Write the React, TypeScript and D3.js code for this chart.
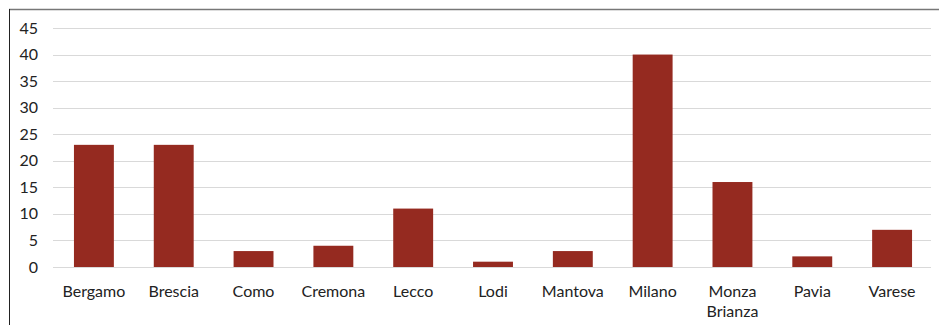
import { useEffect, useRef } from 'react';
import * as d3 from 'd3';

const provinces = ['Bergamo', 'Brescia', 'Como', 'Cremona', 'Lecco', 'Lodi', 'Mantova', 'Milano', 'Monza Brianza', 'Pavia', 'Varese'];
const counts = [23, 23, 3, 4, 11, 1, 3, 40, 16, 2, 7];
const yTicks = [0, 5, 10, 15, 20, 25, 30, 35, 40, 45];

export default function App() {
  const svgRef = useRef<SVGSVGElement>(null);

  useEffect(() => {
    if (!svgRef.current) return;
    const svg = d3.select(svgRef.current);
    svg.selectAll('*').remove();

    const width = 939;
    const height = 325;
    const margin = { top: 28, right: 7, bottom: 58, left: 54 };
    const font = 'Lato, "Open Sans", sans-serif';

    // frame
    svg.append('line')
      .attr('x1', 9).attr('x2', width).attr('y1', 9.5).attr('y2', 9.5)
      .attr('stroke', '#777').attr('stroke-width', 1.5);
    svg.append('line')
      .attr('x1', 9.5).attr('x2', 9.5).attr('y1', 9).attr('y2', height)
      .attr('stroke', '#222').attr('stroke-width', 1);

    const x = d3.scaleBand()
      .domain(provinces)
      .range([margin.left, width - margin.right])
      .paddingInner(0.5)
      .paddingOuter(0.25);

    const y = d3.scaleLinear()
      .domain([0, 45])
      .range([height - margin.bottom, margin.top]);

    // gridlines
    svg.append('g')
      .selectAll('line')
      .data(yTicks)
      .join('line')
      .attr('x1', margin.left - 1)
      .attr('x2', width - margin.right - 1)
      .attr('y1', d => Math.round(y(d)) + 0.5)
      .attr('y2', d => Math.round(y(d)) + 0.5)
      .attr('stroke', '#d9d9d9')
      .attr('stroke-width', 1.2);

    // y labels
    svg.append('g')
      .selectAll('text')
      .data(yTicks)
      .join('text')
      .attr('x', 38)
      .attr('y', d => y(d))
      .attr('dy', '0.35em')
      .attr('text-anchor', 'end')
      .attr('font-family', font)
      .attr('font-size', 16)
      .attr('fill', '#222')
      .text(d => d);

    // bars
    svg.append('g')
      .selectAll('rect')
      .data(counts)
      .join('rect')
      .attr('x', (_, i) => x(provinces[i]) || 0)
      .attr('y', d => y(d))
      .attr('width', x.bandwidth())
      .attr('height', d => y(0) - y(d))
      .attr('fill', '#952a20');

    // x labels
    const labels = svg.append('g')
      .selectAll('text')
      .data(provinces)
      .join('text')
      .attr('x', d => (x(d) || 0) + x.bandwidth() / 2)
      .attr('y', height - margin.bottom + 30)
      .attr('text-anchor', 'middle')
      .attr('font-family', font)
      .attr('font-size', 16)
      .attr('fill', '#222');

    labels.each(function (d) {
      const parts = d.split(' ');
      const t = d3.select(this);
      parts.forEach((p, i) => {
        t.append('tspan')
          .attr('x', (x(d) || 0) + x.bandwidth() / 2)
          .attr('dy', i === 0 ? 0 : 20)
          .text(p);
      });
    });
  }, []);

  return (
    <svg
      ref={svgRef}
      width={939}
      height={325}
      style={{ position: 'absolute', left: 0, top: 0, background: '#fff' }}
    />
  );
}
